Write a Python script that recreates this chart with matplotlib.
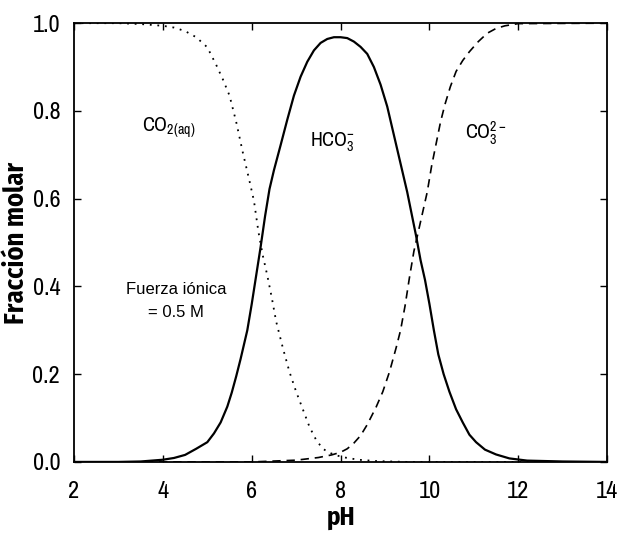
import matplotlib.pyplot as plt

# values
ph_co2 = [2.0, 3.0, 3.5, 4.0, 4.25, 4.5, 4.75, 5.0, 5.2, 5.35, 5.5, 5.65, 5.8, 5.95,
          6.05, 6.15, 6.25, 6.35, 6.45, 6.55, 6.7, 6.85, 7.0, 7.15, 7.3, 7.45, 7.6,
          7.75, 7.9, 8.1, 8.4, 8.8, 9.5, 14.0]
co2 = [1.0, 1.0, 0.998, 0.994, 0.99, 0.982, 0.968, 0.945, 0.905, 0.872, 0.835, 0.775,
       0.705, 0.64, 0.595, 0.525, 0.47, 0.425, 0.375, 0.32, 0.26, 0.205, 0.16, 0.12,
       0.08, 0.05, 0.03, 0.021, 0.015, 0.01, 0.005, 0.002, 0.0, 0.0]

ph_hco3 = [2.0, 3.0, 3.5, 4.0, 4.25, 4.5, 4.75, 5.0, 5.15, 5.3, 5.45, 5.55, 5.65, 5.75,
           5.9, 6.0, 6.1, 6.2, 6.3, 6.4, 6.5, 6.65, 6.8, 6.95, 7.1, 7.25, 7.4, 7.55,
           7.7, 7.85, 8.0, 8.15, 8.3, 8.45, 8.6, 8.75, 8.9, 9.05, 9.2, 9.35, 9.5, 9.6,
           9.7, 9.8, 9.9, 10.0, 10.1, 10.2, 10.32, 10.45, 10.6, 10.75, 10.9, 11.05,
           11.25, 11.5, 11.8, 12.2, 13.0, 14.0]
hco3 = [0.0, 0.0, 0.001, 0.005, 0.009, 0.016, 0.03, 0.045, 0.065, 0.09, 0.126, 0.158,
        0.195, 0.235, 0.30, 0.36, 0.425, 0.49, 0.56, 0.622, 0.665, 0.722, 0.78, 0.835,
        0.878, 0.912, 0.938, 0.955, 0.964, 0.968, 0.968, 0.966, 0.958, 0.946, 0.93,
        0.90, 0.86, 0.81, 0.745, 0.68, 0.615, 0.565, 0.515, 0.46, 0.415, 0.36, 0.30,
        0.245, 0.20, 0.16, 0.12, 0.09, 0.062, 0.045, 0.028, 0.017, 0.008, 0.003,
        0.001, 0.0]

ph_co3 = [2.0, 6.0, 6.5, 7.0, 7.5, 7.8, 8.0, 8.15, 8.3, 8.45, 8.6, 8.8, 8.95, 9.1,
          9.25, 9.35, 9.45, 9.55, 9.65, 9.75, 9.85, 9.95, 10.05, 10.15, 10.25, 10.35,
          10.47, 10.6, 10.75, 10.9, 11.1, 11.3, 11.5, 11.7, 12.0, 14.0]
co3 = [0.0, 0.0, 0.002, 0.004, 0.01, 0.016, 0.022, 0.03, 0.043, 0.06, 0.085, 0.125,
       0.16, 0.205, 0.26, 0.30, 0.355, 0.42, 0.48, 0.525, 0.57, 0.615, 0.675, 0.725,
       0.775, 0.815, 0.855, 0.89, 0.915, 0.935, 0.958, 0.977, 0.988, 0.994, 0.999,
       1.0]

x_ticks = [2, 4, 6, 8, 10, 12, 14]
y_ticks = [0.0, 0.2, 0.4, 0.6, 0.8, 1.0]

narrow = ['Archivo Narrow', 'DejaVu Sans']
narrow_bold = ['Fira Sans Condensed', 'DejaVu Sans']
plt.rcParams['mathtext.fontset'] = 'custom'
plt.rcParams['mathtext.rm'] = 'Archivo Narrow'
plt.rcParams['mathtext.it'] = 'Archivo Narrow'
plt.rcParams['mathtext.default'] = 'regular'

fig = plt.figure(figsize=(6.17, 5.39), dpi=100)
ax = fig.add_axes([0.120, 0.143, 0.864, 0.814])

ax.plot(ph_co2, co2, color='black', linestyle=(0, (1, 3.2)), linewidth=1.3)
ax.plot(ph_hco3, hco3, color='black', linestyle='-', linewidth=1.6)
ax.plot(ph_co3, co3, color='black', linestyle=(0, (5, 3.5)), linewidth=1.2)

ax.set_xlim(2, 14)
ax.set_ylim(0.0, 1.0)
ax.set_xticks(x_ticks)
ax.set_yticks(y_ticks)
ax.set_xticklabels([str(t) for t in x_ticks], family=narrow, fontsize=17.5)
ax.set_yticklabels(['%.1f' % t for t in y_ticks], family=narrow, fontsize=17.5)
ax.tick_params(axis='x', direction='in', length=5, width=1, top=True, pad=14)
ax.tick_params(axis='y', direction='in', length=5, width=1, right=True, pad=10)
for sp in ax.spines.values():
    sp.set_linewidth(1.3)

ax.set_xlabel('pH', family=narrow_bold, fontsize=18, fontweight='bold', labelpad=2)
ax.set_ylabel('Fracción molar', family=narrow_bold, fontsize=19, fontweight='bold', labelpad=2)

ax.text(3.53, 0.752, r'CO$_{2(aq)}$', family=narrow, fontsize=14.5, ha='left', va='baseline')
ax.text(7.32, 0.72, r'HCO$_3^{-}$', family=narrow, fontsize=14.5, ha='left', va='baseline')
ax.text(10.81, 0.736, r'CO$_3^{2-}$', family=narrow, fontsize=14.5, ha='left', va='baseline')
ax.text(4.3, 0.383, 'Fuerza iónica', family=['Liberation Sans', 'DejaVu Sans'],
        fontsize=12, ha='center', va='baseline')
ax.text(4.3, 0.331, '= 0.5 M', family=['Liberation Sans', 'DejaVu Sans'],
        fontsize=12, ha='center', va='baseline')

fig.savefig('out.png', dpi=100)
